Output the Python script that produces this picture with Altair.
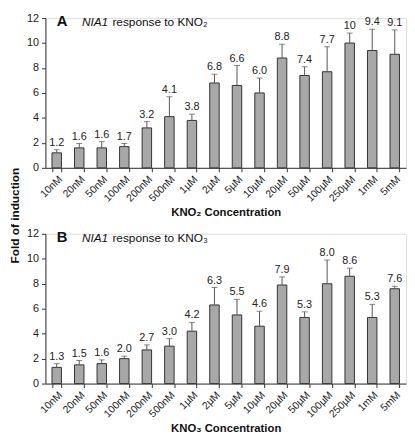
import altair as alt
import pandas as pd

cats = ["10nM", "20nM", "50nM", "100nM", "200nM", "500nM", "1µM", "2µM",
        "5µM", "10µM", "20µM", "50µM", "100µM", "250µM", "1mM", "5mM"]

a_vals = [1.2, 1.6, 1.6, 1.7, 3.2, 4.1, 3.8, 6.8, 6.6, 6.0, 8.8, 7.4, 7.7, 10.0, 9.4, 9.1]
a_errs = [0.25, 0.35, 0.5, 0.25, 0.5, 1.6, 0.5, 0.7, 1.6, 1.2, 1.1, 0.7, 2.0, 0.8, 1.7, 1.95]
a_labels = ["1.2", "1.6", "1.6", "1.7", "3.2", "4.1", "3.8", "6.8", "6.6", "6.0",
            "8.8", "7.4", "7.7", "10", "9.4", "9.1"]

b_vals = [1.3, 1.5, 1.6, 2.0, 2.7, 3.0, 4.2, 6.3, 5.5, 4.6, 7.9, 5.3, 8.0, 8.6, 5.3, 7.6]
b_errs = [0.3, 0.35, 0.3, 0.2, 0.4, 0.6, 0.7, 1.4, 1.25, 1.2, 0.65, 0.45, 1.9, 0.65, 1.05, 0.2]
b_labels = ["1.3", "1.5", "1.6", "2.0", "2.7", "3.0", "4.2", "6.3", "5.5", "4.6",
            "7.9", "5.3", "8.0", "8.6", "5.3", "7.6"]

y_ticks = [0, 2, 4, 6, 8, 10, 12]

FONT = "Liberation Sans"
W, H = 366, 152


def panel(vals, errs, labels, letter, ion, xtitle, ytitle):
    df = pd.DataFrame({
        "cat": cats,
        "val": vals,
        "top": [v + e for v, e in zip(vals, errs)],
        "label": labels,
    })
    common = dict(values=y_ticks, tickCount=7, grid=False, tickSize=4,
                  labelFontSize=11, labelColor="#222", domainColor="#333",
                  tickColor="#333", labelPadding=3, labelOverlap=False,
                  labelBound=False)
    if ytitle:
        yaxis = alt.Axis(title=ytitle, titleFontSize=12, titleFontWeight="bold",
                         titleColor="#111", titleX=-24, titleY=200,
                         titleAngle=270, titleAlign="center",
                         titleBaseline="bottom", **common)
    else:
        yaxis = alt.Axis(title=None, **common)
    yscale = alt.Scale(domain=[0, 12], nice=False)
    x = alt.X("cat:N", sort=cats,
              scale=alt.Scale(paddingInner=0.58, paddingOuter=0.29),
              axis=alt.Axis(title=xtitle, labelAngle=-45, labelAlign="right",
                            labelBaseline="top", labelFontSize=10.5,
                            labelColor="#222", tickBand="extent", tickSize=4,
                            domainColor="#333", tickColor="#333",
                            titleFontSize=11.5, titleFontWeight="bold",
                            titleColor="#111", titlePadding=3))
    base = alt.Chart(df).encode(x=x)
    bars = base.mark_bar(fill="#a8a8a8", stroke="#333", strokeWidth=1).encode(
        y=alt.Y("val:Q", scale=yscale, axis=yaxis))
    rule = base.mark_rule(color="#555", strokeWidth=1).encode(
        y=alt.Y("val:Q", scale=yscale, axis=yaxis), y2="top:Q")
    cap = base.mark_tick(color="#555", thickness=1, size=6).encode(
        y=alt.Y("top:Q", scale=yscale, axis=yaxis))
    text = base.mark_text(dy=-7, fontSize=11, color="#222", font=FONT).encode(
        y=alt.Y("top:Q", scale=yscale, axis=yaxis), text="label:N")

    t1 = alt.Chart(pd.DataFrame({"t": [letter]})).mark_text(
        fontSize=15, fontWeight="bold", font=FONT, align="center",
        baseline="middle", color="#111").encode(
        text="t:N", x=alt.value(17), y=alt.value(3))
    t2 = alt.Chart(pd.DataFrame({"t": ["NIA1"]})).mark_text(
        fontSize=12, fontStyle="italic", font=FONT, align="left",
        baseline="middle", color="#111").encode(
        text="t:N", x=alt.value(37), y=alt.value(4))
    t3 = alt.Chart(pd.DataFrame({"t": ["response to " + ion]})).mark_text(
        fontSize=12, font=FONT, align="left", baseline="middle",
        color="#111").encode(
        text="t:N", x=alt.value(68), y=alt.value(4))
    return alt.layer(bars, rule, cap, text, t1, t2, t3).properties(width=W, height=H)


pa = panel(a_vals, a_errs, a_labels, "A", "KNO₂", "KNO₂ Concentration", "Fold of induction")
pb = panel(b_vals, b_errs, b_labels, "B", "KNO₃", "KNO₃ Concentration", None)

chart = alt.vconcat(pa, pb, spacing=67, bounds="flush").properties(
    padding=0, background="white"
).configure_view(stroke=None).configure(font=FONT)

chart.save("out.html", embed_options={"renderer": "svg", "actions": False})
